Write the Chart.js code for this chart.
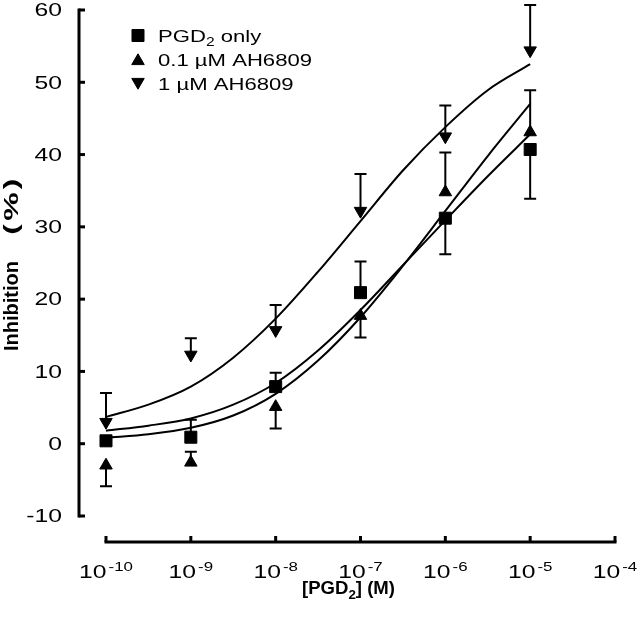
<!DOCTYPE html>
<html><head><meta charset="utf-8">
<script src="https://cdn.jsdelivr.net/npm/chart.js@4"></script>
<style>html,body{margin:0;padding:0;background:#fff}#wrap{width:640px;height:622px;position:relative}</style>
</head><body><div id="wrap"><canvas id="c" width="640" height="622"></canvas></div>
<script>
// ---- data ----
const concentrations = [1e-10, 1e-9, 1e-8, 1e-7, 1e-6, 1e-5];
const pgdOnly       = [0.4, 0.9, 7.9, 20.9, 31.2, 40.7];
const pgdOnlyErrEnd = [null, 3.3, 9.8, 25.2, 26.2, 33.9];
const ah01          = [-3.0, -2.6, 5.1, 17.7, 34.8, 43.1];
const ah01ErrEnd    = [-5.9, -1.1, 2.1, 14.7, 40.3, 48.9];
const ah1           = [3.0, 12.3, 15.7, 32.2, 42.5, 54.4];
const ah1ErrEnd     = [7.0, 14.6, 19.2, 37.3, 46.8, 60.7];

// fitted curves at half-decade steps
const curveX     = [1e-10, 3.16e-10, 1e-9, 3.16e-9, 1e-8, 3.16e-8, 1e-7, 3.16e-7, 1e-6, 3.16e-6, 1e-5];
const fitPgdOnly = [1.8, 2.5, 3.5, 5.4, 8.4, 12.9, 18.5, 24.7, 30.9, 37.0, 42.8];
const fitAh01    = [0.8, 1.3, 2.2, 3.9, 6.9, 11.5, 17.5, 24.6, 32.2, 39.8, 47.0];
const fitAh1     = [3.7, 5.4, 7.9, 11.9, 17.3, 23.8, 30.8, 37.8, 43.8, 48.9, 52.5];

const yTicks = [-10, 0, 10, 20, 30, 40, 50, 60];
const xTickExponents = [-10, -9, -8, -7, -6, -5, -4];
const legendLabels = ['PGD{2} only', '0.1 \u00b5M AH6809', '1 \u00b5M AH6809'];
const yTitle = ['Inhibition', '(%)'];
const xTitle = '[PGD{2}] (M)';

// ---- helpers ----
const FONT = '"Liberation Sans", Arial, sans-serif';
function pts(xs, ys) { return xs.map((x, i) => ({x: x, y: ys[i]})); }

function parseRich(s) {
  const out = []; const re = /\{([^}]*)\}/g; let last = 0, m;
  while ((m = re.exec(s))) { if (m.index > last) out.push({t: s.slice(last, m.index), sub: false}); out.push({t: m[1], sub: true}); last = re.lastIndex; }
  if (last < s.length) out.push({t: s.slice(last), sub: false});
  return out;
}
function drawRich(ctx, s, x, y, size, subSize, bold, align, sx) {
  const parts = parseRich(s);
  const w = bold ? 'bold ' : '';
  let total = 0;
  parts.forEach(p => { ctx.font = w + (p.sub ? subSize : size) + 'px ' + FONT; p.w = ctx.measureText(p.t).width * sx; total += p.w; });
  let cx = align === 'center' ? x - total / 2 : align === 'right' ? x - total : x;
  parts.forEach(p => {
    ctx.save();
    ctx.font = w + (p.sub ? subSize : size) + 'px ' + FONT;
    ctx.textAlign = 'left'; ctx.textBaseline = 'alphabetic';
    ctx.translate(cx, y + (p.sub ? size * 0.27 : 0)); ctx.scale(sx, 1);
    ctx.fillText(p.t, 0, 0); ctx.restore();
    cx += p.w;
  });
}

const markerStyles = [
  {pointStyle: 'rect', radius: 8.5, rotation: 0},
  {pointStyle: 'triangle', radius: 7.2, rotation: 0},
  {pointStyle: 'triangle', radius: 7.2, rotation: 180}
];

const decor = {
  id: 'decor',
  beforeDatasetsDraw(chart) {
    const ctx = chart.ctx, xs = chart.scales.x, ys = chart.scales.y;
    const series = [[pgdOnly, pgdOnlyErrEnd], [ah01, ah01ErrEnd], [ah1, ah1ErrEnd]];
    ctx.save(); ctx.strokeStyle = '#000'; ctx.lineWidth = 2;
    series.forEach(([vals, ends]) => {
      vals.forEach((v, i) => {
        if (ends[i] === null) return;
        const px = xs.getPixelForValue(concentrations[i]);
        const p0 = ys.getPixelForValue(v), p1 = ys.getPixelForValue(ends[i]);
        ctx.beginPath(); ctx.moveTo(px, p0); ctx.lineTo(px, p1);
        ctx.moveTo(px - 6, p1); ctx.lineTo(px + 6, p1); ctx.stroke();
      });
    });
    ctx.restore();
  },
  afterDraw(chart) {
    const ctx = chart.ctx, xs = chart.scales.x, ys = chart.scales.y, a = chart.chartArea;
    ctx.save(); ctx.fillStyle = '#000'; ctx.strokeStyle = '#000';
    // y axis (offset to the left)
    const yAxisX = a.left - 27;
    ctx.lineWidth = 3; ctx.lineCap = 'butt';
    ctx.beginPath(); ctx.moveTo(yAxisX, ys.getPixelForValue(yTicks[yTicks.length - 1]) - 1.5);
    ctx.lineTo(yAxisX, ys.getPixelForValue(yTicks[0]) + 1.5); ctx.stroke();
    yTicks.forEach(t => {
      const py = ys.getPixelForValue(t);
      ctx.beginPath(); ctx.moveTo(yAxisX, py); ctx.lineTo(yAxisX + 6, py); ctx.stroke();
      ctx.save(); ctx.font = '19px ' + FONT; ctx.textBaseline = 'middle';
      const s = String(t); const w = ctx.measureText(s).width * 1.3;
      ctx.translate(yAxisX - 17 - w, py + 1); ctx.scale(1.3, 1); ctx.fillText(s, 0, 0); ctx.restore();
    });
    // x axis (offset below)
    const xAxisY = a.bottom + 26;
    const xl = xs.getPixelForValue(Math.pow(10, xTickExponents[0]));
    const xr = xs.getPixelForValue(Math.pow(10, xTickExponents[xTickExponents.length - 1]));
    ctx.beginPath(); ctx.moveTo(xl - 1.5, xAxisY); ctx.lineTo(xr + 1.5, xAxisY); ctx.stroke();
    xTickExponents.forEach(e => {
      const px = xs.getPixelForValue(Math.pow(10, e));
      ctx.beginPath(); ctx.moveTo(px, xAxisY); ctx.lineTo(px, xAxisY - 6); ctx.stroke();
      ctx.font = '19px ' + FONT; const wb = ctx.measureText('10').width * 1.3;
      ctx.font = '13px ' + FONT; const we = ctx.measureText(String(e)).width * 1.3;
      const x0 = px - (wb + we + 2) / 2;
      ctx.save(); ctx.font = '19px ' + FONT; ctx.translate(x0, xAxisY + 36); ctx.scale(1.3, 1); ctx.fillText('10', 0, 0); ctx.restore();
      ctx.save(); ctx.font = '13px ' + FONT; ctx.translate(x0 + wb + 2, xAxisY + 28.5); ctx.scale(1.3, 1); ctx.fillText(String(e), 0, 0); ctx.restore();
    });
    // axis titles
    drawRich(ctx, xTitle, (xl + xr) / 2 - 12, xAxisY + 52, 18, 13, true, 'center', 1.03);
    ctx.save(); ctx.translate(17.5, 0); ctx.rotate(-Math.PI / 2);
    ctx.font = 'bold 20px ' + FONT; ctx.textAlign = 'center'; ctx.textBaseline = 'alphabetic';
    ctx.fillText(yTitle[0], -306, 0);
    ctx.save(); ctx.translate(-205, 0); ctx.scale(1.6, 1); ctx.letterSpacing = '2px'; ctx.fillText(yTitle[1], 0, 0); ctx.restore();
    ctx.restore();
    // legend
    const rowsY = [35.5, 59.5, 83.5];
    legendLabels.forEach((lab, i) => {
      ctx.fillStyle = '#000'; ctx.strokeStyle = '#000'; ctx.lineWidth = 1;
      Chart.helpers.drawPoint(ctx, Object.assign({borderWidth: 1}, markerStyles[i]), 138, rowsY[i] + (i === 0 ? 0 : (i === 1 ? 1.5 : -1.5)));
      drawRich(ctx, lab, 158, rowsY[i] + 6, 17, 12, false, 'left', 1.3);
    });
    ctx.restore();
  }
};

const lineDs = (data) => ({type: 'line', data: data, borderColor: '#000', borderWidth: 2, pointRadius: 0,
  fill: false, cubicInterpolationMode: 'monotone', clip: false});
const ptDs = (data, st) => ({type: 'line', data: data, showLine: false, pointStyle: st.pointStyle,
  pointRadius: st.radius, pointRotation: st.rotation, pointBackgroundColor: '#000', pointBorderColor: '#000',
  pointBorderWidth: 1, clip: false});

new Chart(document.getElementById('c'), {
  type: 'line',
  data: {
    datasets: [
      lineDs(pts(curveX, fitPgdOnly)),
      lineDs(pts(curveX, fitAh01)),
      lineDs(pts(curveX, fitAh1)),
      ptDs(pts(concentrations, pgdOnly), markerStyles[0]),
      ptDs(pts(concentrations, ah01), markerStyles[1]),
      ptDs(pts(concentrations, ah1), markerStyles[2])
    ]
  },
  options: {
    responsive: false, animation: false, events: [],
    layout: {padding: {left: 106, right: 25, top: 10, bottom: 106}},
    plugins: {legend: {display: false}, tooltip: {enabled: false}},
    scales: {
      x: {type: 'logarithmic', min: 1e-10, max: 1e-4, display: false},
      y: {type: 'linear', min: -10, max: 60, display: false}
    }
  },
  plugins: [decor]
});
</script></body></html>
